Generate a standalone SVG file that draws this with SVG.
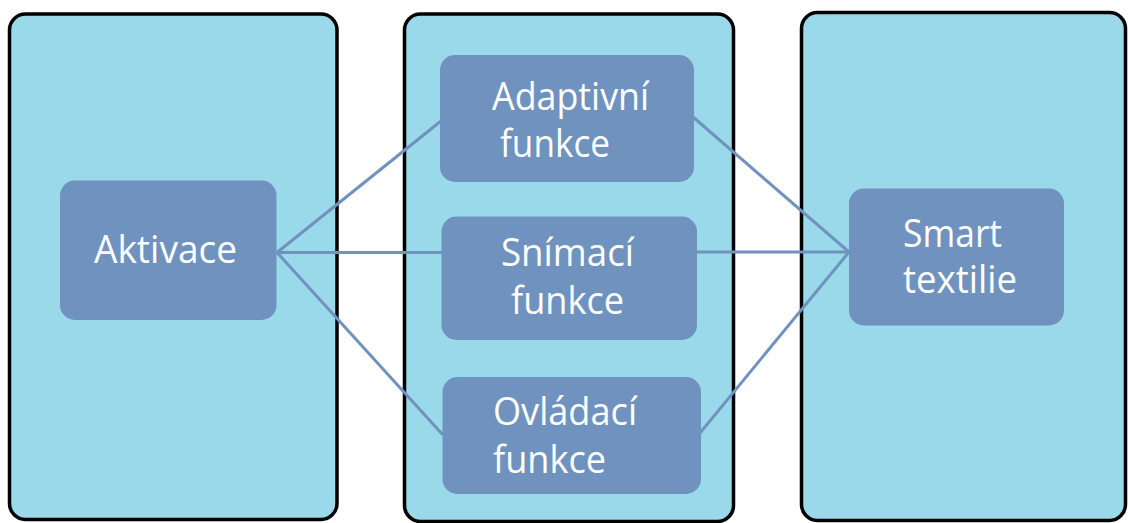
<svg xmlns="http://www.w3.org/2000/svg" width="1128" height="523" viewBox="0 0 1128 523">
<style>
.panel{fill:#99d9ea;stroke:#000;stroke-width:3.5}
.node{fill:#7092be}
.conn{stroke:#7092be;stroke-width:3;fill:none}
.lbl{font-family:"Open Sans","Noto Sans",sans-serif;font-size:39px;fill:#fff}
</style>
<rect width="1128" height="523" fill="#fff"/>
<g id="panel-left"><rect class="panel" x="9.5" y="14" width="327.5" height="505.5" rx="16"/></g>
<g id="panel-middle"><rect class="panel" x="404.5" y="14" width="329" height="507.5" rx="16"/></g>
<g id="panel-right"><rect class="panel" x="801.5" y="12.5" width="324" height="508" rx="16"/></g>
<g id="connectors">
<line class="conn" x1="277" y1="252.5" x2="441" y2="121"/>
<line class="conn" x1="277" y1="252.5" x2="442" y2="252.5"/>
<line class="conn" x1="277" y1="252.5" x2="443" y2="435"/>
<line class="conn" x1="693" y1="117" x2="849" y2="252"/>
<line class="conn" x1="697" y1="252" x2="849" y2="252"/>
<line class="conn" x1="700" y1="433" x2="849" y2="252"/>
</g>
<g id="node-aktivace"><rect class="node" x="60" y="180.5" width="216.5" height="139.5" rx="15"/><text class="lbl" x="94" y="262.5" textLength="143" lengthAdjust="spacingAndGlyphs">Aktivace</text></g>
<g id="node-adaptivni"><rect class="node" x="440" y="55" width="254" height="127" rx="15"/><text class="lbl" x="492" y="110" textLength="157" lengthAdjust="spacingAndGlyphs">Adaptivní</text><text class="lbl" x="500" y="157" textLength="110" lengthAdjust="spacingAndGlyphs">funkce</text></g>
<g id="node-snimaci"><rect class="node" x="441.5" y="216.5" width="255.5" height="123.5" rx="15"/><text class="lbl" x="501" y="266" textLength="133" lengthAdjust="spacingAndGlyphs">Snímací</text><text class="lbl" x="511" y="314" textLength="113" lengthAdjust="spacingAndGlyphs">funkce</text></g>
<g id="node-ovladaci"><rect class="node" x="442.5" y="377" width="258.5" height="117" rx="15"/><text class="lbl" x="493" y="425" textLength="144" lengthAdjust="spacingAndGlyphs">Ovládací</text><text class="lbl" x="493" y="473" textLength="113" lengthAdjust="spacingAndGlyphs">funkce</text></g>
<g id="node-smart"><rect class="node" x="849" y="188.5" width="215" height="137" rx="15"/><text class="lbl" x="903" y="247" textLength="99" lengthAdjust="spacingAndGlyphs">Smart</text><text class="lbl" x="903" y="293" textLength="114" lengthAdjust="spacingAndGlyphs">textilie</text></g>
</svg>
